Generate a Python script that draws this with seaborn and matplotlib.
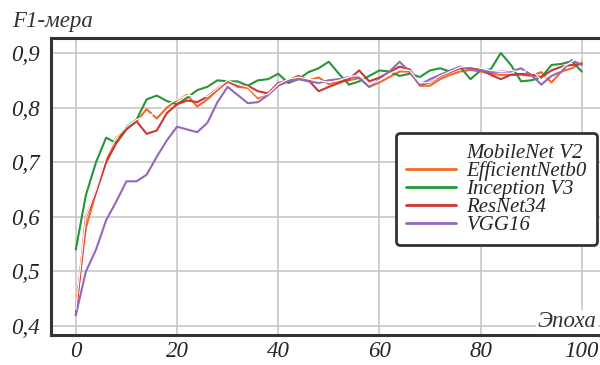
import numpy as np
import pandas as pd
import seaborn as sns
import matplotlib.pyplot as plt
from matplotlib.ticker import FuncFormatter

# Data (every 2nd epoch)
epochs = list(range(0, 101, 2))

mobilenet_v2 = [0.43, 0.60, 0.65, 0.71, 0.745, 0.765, 0.778, 0.785, 0.79, 0.805,
                0.815, 0.822, 0.822, 0.82, 0.835, 0.85, 0.842, 0.838, 0.82, 0.825,
                0.843, 0.852, 0.856, 0.852, 0.85, 0.846, 0.85, 0.856, 0.86, 0.842,
                0.85, 0.862, 0.87, 0.868, 0.845, 0.846, 0.858, 0.866, 0.874, 0.876,
                0.872, 0.868, 0.866, 0.868, 0.865, 0.87, 0.85, 0.862, 0.872, 0.884,
                0.895]
efficientnet_b0 = [0.43, 0.58, 0.645, 0.705, 0.745, 0.762, 0.775, 0.797, 0.78, 0.80,
                   0.814, 0.823, 0.802, 0.815, 0.832, 0.848, 0.838, 0.836, 0.817, 0.826,
                   0.842, 0.85, 0.857, 0.85, 0.855, 0.843, 0.848, 0.85, 0.854, 0.838,
                   0.846, 0.856, 0.866, 0.866, 0.84, 0.84, 0.852, 0.86, 0.866, 0.869,
                   0.866, 0.862, 0.86, 0.86, 0.86, 0.858, 0.865, 0.846, 0.866, 0.872,
                   0.882]
inception_v3 = [0.54, 0.64, 0.70, 0.745, 0.735, 0.765, 0.778, 0.815, 0.822, 0.812,
                0.806, 0.818, 0.832, 0.838, 0.85, 0.848, 0.848, 0.84, 0.85, 0.852,
                0.862, 0.845, 0.852, 0.865, 0.872, 0.884, 0.862, 0.842, 0.848, 0.858,
                0.868, 0.866, 0.858, 0.862, 0.856, 0.868, 0.872, 0.866, 0.874, 0.852,
                0.868, 0.87, 0.90, 0.878, 0.848, 0.85, 0.855, 0.878, 0.88, 0.885,
                0.866]
resnet34 = [0.42, 0.60, 0.645, 0.70, 0.735, 0.76, 0.775, 0.752, 0.758, 0.79,
            0.806, 0.813, 0.81, 0.82, 0.835, 0.848, 0.84, 0.84, 0.83, 0.826,
            0.845, 0.85, 0.858, 0.85, 0.83, 0.838, 0.845, 0.852, 0.868, 0.848,
            0.855, 0.865, 0.875, 0.87, 0.842, 0.846, 0.857, 0.865, 0.872, 0.872,
            0.87, 0.86, 0.852, 0.86, 0.862, 0.86, 0.856, 0.868, 0.875, 0.878,
            0.88]
vgg16 = [0.42, 0.50, 0.54, 0.594, 0.628, 0.665, 0.665, 0.677, 0.71, 0.74,
         0.765, 0.76, 0.755, 0.772, 0.81, 0.838, 0.823, 0.808, 0.81, 0.823,
         0.84, 0.848, 0.852, 0.848, 0.845, 0.85, 0.852, 0.856, 0.855, 0.838,
         0.852, 0.866, 0.884, 0.865, 0.842, 0.852, 0.86, 0.868, 0.875, 0.87,
         0.868, 0.865, 0.866, 0.866, 0.872, 0.86, 0.842, 0.858, 0.866, 0.887,
         0.878]

names = ["MobileNet V2", "EfficientNetb0", "Inception V3", "ResNet34", "VGG16"]
colors = ["#ffffff", "#f26a26", "#259639", "#cf3434", "#9467bd"]
series = [mobilenet_v2, efficientnet_b0, inception_v3, resnet34, vgg16]

df = pd.concat(
    [pd.DataFrame({"epoch": epochs, "f1": vals, "model": name})
     for name, vals in zip(names, series)],
    ignore_index=True,
)

sns.set_style("white")
plt.rcParams["font.family"] = ["Liberation Serif", "DejaVu Serif"]
plt.rcParams["font.style"] = "italic"

fig = plt.figure(figsize=(6, 3.65), dpi=100)
ax = fig.add_axes([0.085, 0.082, 0.915, 0.814])

sns.lineplot(data=df, x="epoch", y="f1", hue="model", hue_order=names,
             palette=dict(zip(names, colors)), linewidth=1.5, ax=ax)

# white MobileNet line goes on top, thinner
ax.lines[0].set_zorder(5)
ax.lines[0].set_linewidth(0.9)

ax.set_xlim(-4.9, 103.6)
ax.set_ylim(0.3835, 0.9275)
ax.set_xticks([0, 20, 40, 60, 80, 100])
ax.set_yticks([0.4, 0.5, 0.6, 0.7, 0.8, 0.9])
ax.yaxis.set_major_formatter(FuncFormatter(lambda v, p: f"{v:.1f}".replace(".", ",")))
ax.tick_params(length=0, labelsize=16.5)
ax.tick_params(axis="y", pad=8)
ax.tick_params(axis="x", pad=4)
ax.grid(True, color="#c4c4c4", linewidth=1.1)
ax.set_axisbelow(True)
ax.set_xlabel("")
ax.set_ylabel("")

for side in ["top", "left", "bottom"]:
    ax.spines[side].set_color("#333333")
    ax.spines[side].set_linewidth(2.2)
ax.spines["right"].set_visible(False)

fig.text(0.02, 0.94, "F1-мера", fontsize=16.5, ha="left", va="center", color="#333333")
ax.text(0.993, 0.045, "Эпоха", transform=ax.transAxes, fontsize=16.5,
        ha="right", va="center", color="#333333",
        bbox=dict(facecolor="white", edgecolor="none", pad=1))

leg = ax.legend(loc="upper right", bbox_to_anchor=(0.995, 0.68), borderaxespad=0,
                fontsize=15, handlelength=2.4, labelspacing=-0.08,
                frameon=True, fancybox=True, borderpad=0.5, handletextpad=0.5)
leg.get_frame().set_edgecolor("#333333")
leg.get_frame().set_linewidth(2.0)
leg.get_frame().set_alpha(1)
for line in leg.get_lines():
    line.set_linewidth(2.0)

fig.savefig("out.png", dpi=100)
